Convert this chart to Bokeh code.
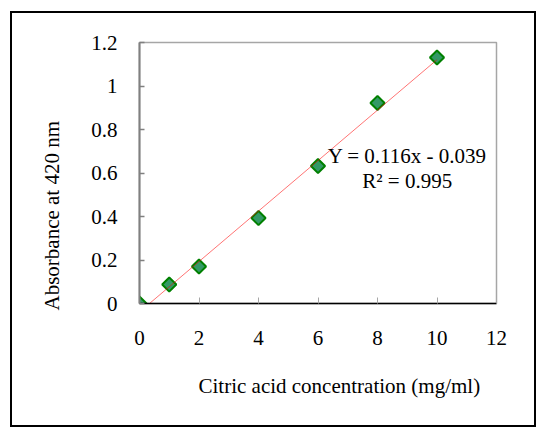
import numpy as np
from bokeh.plotting import figure
from bokeh.models import (FixedTicker, CustomJSTickFormatter, Label, Range1d,
                          ColumnDataSource, Title)
from bokeh.embed import file_html
from bokeh.resources import INLINE

# ---- data ----
conc = [0, 1, 2, 4, 6, 8, 10]
absorb = [0.0, 0.087, 0.170, 0.393, 0.632, 0.922, 1.131]
slope = 0.116
intercept = -0.039
x_ticks = [0, 2, 4, 6, 8, 10, 12]
y_ticks = [0, 0.2, 0.4, 0.6, 0.8, 1.0, 1.2]
eq_text = "Y = 0.116x - 0.039"
r2_text = "R² = 0.995"
x_title = "Citric acid concentration (mg/ml)"
y_title = "Absorbance at 420 nm"

FONT = "Liberation Serif"
FS = "21px"

fit_x = [-intercept / slope, conc[-1]]
fit_y = [slope * x + intercept for x in fit_x]

p = figure(width=526, height=416,
           x_range=Range1d(x_ticks[0], x_ticks[-1]),
           y_range=Range1d(y_ticks[0], y_ticks[-1]),
           output_backend="svg", toolbar_location=None,
           min_border_left=126, min_border_right=42,
           min_border_top=29, min_border_bottom=126)
p.margin = (11, 0, 0, 10)
p.styles = {"border": "2px solid black"}
p.outline_line_color = "#a6a6a6"
p.outline_line_width = 1.5
p.background_fill_color = "white"
p.border_fill_color = "white"
p.grid.visible = False

yax = p.yaxis[0]
xax = p.xaxis[0]

yax.ticker = FixedTicker(ticks=y_ticks)
yax.formatter = CustomJSTickFormatter(code="return String(Math.round(tick*10)/10);")
yax.axis_line_color = "#808080"
yax.axis_line_width = 2
yax.major_tick_line_color = "#808080"
yax.major_tick_line_width = 1.5
yax.major_tick_in = 5
yax.major_tick_out = 0
yax.minor_tick_line_color = None
yax.major_label_standoff = 22
yax.major_label_text_font = FONT
yax.major_label_text_font_size = FS
yax.major_label_text_color = "black"

xax.ticker = FixedTicker(ticks=x_ticks)
xax.axis_line_color = "black"
xax.axis_line_width = 1.5
xax.major_tick_line_color = "#a6a6a6"
xax.major_tick_line_width = 1
xax.major_tick_in = 6
xax.major_tick_out = 0
xax.minor_tick_line_color = None
xax.major_label_standoff = 27
xax.major_label_text_font = FONT
xax.major_label_text_font_size = FS
xax.major_label_text_color = "black"

src = ColumnDataSource(dict(x=conc, y=absorb))
p.scatter("x", "y", source=src, marker="square", angle=np.pi / 4, size=10,
          fill_color="#339966", line_color="#008000", line_width=2)

p.line(fit_x, fit_y, line_color="#ff0000", line_alpha=0.55, line_width=1)

for txt, y in [(eq_text, 0.678), (r2_text, 0.563)]:
    p.add_layout(Label(x=9.0, y=y, text=txt, text_align="center",
                       text_baseline="middle", text_font=FONT,
                       text_font_size=FS, text_color="black"))

p.add_layout(Title(text=x_title, align="left", offset=59, standoff=48,
                   text_font=FONT, text_font_size=FS, text_font_style="normal",
                   text_color="black"), "below")
p.add_layout(Title(text=y_title, align="left", offset=-7, standoff=50,
                   text_font=FONT, text_font_size=FS, text_font_style="normal",
                   text_color="black"), "left")

open("out.html", "w").write(file_html(p, INLINE))
